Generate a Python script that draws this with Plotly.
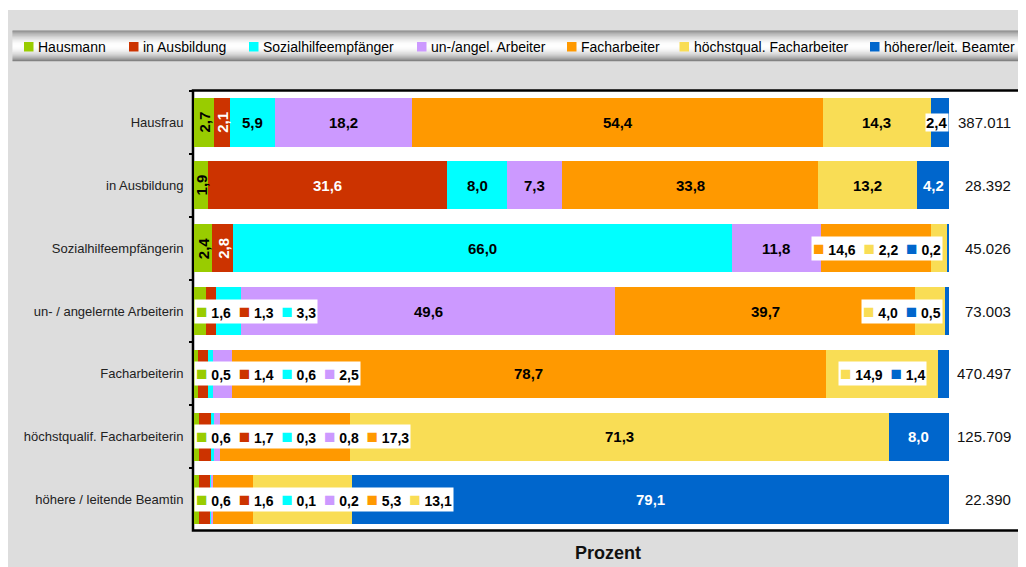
import math
import plotly.graph_objects as go

categories = [
    "Hausfrau",
    "in Ausbildung",
    "Sozialhilfeempfängerin",
    "un- / angelernte Arbeiterin",
    "Facharbeiterin",
    "höchstqualif. Facharbeiterin",
    "höhere / leitende Beamtin",
]
series_names = [
    "Hausmann",
    "in Ausbildung",
    "Sozialhilfeempfänger",
    "un-/angel. Arbeiter",
    "Facharbeiter",
    "höchstqual. Facharbeiter",
    "höherer/leit. Beamter",
]
hausmann = [2.7, 1.9, 2.4, 1.6, 0.5, 0.6, 0.6]
in_ausbildung = [2.1, 31.6, 2.8, 1.3, 1.4, 1.7, 1.6]
sozialhilfe = [5.9, 8.0, 66.0, 3.3, 0.6, 0.3, 0.1]
ungelernt = [18.2, 7.3, 11.8, 49.6, 2.5, 0.8, 0.2]
facharbeiter = [54.4, 33.8, 14.6, 39.7, 78.7, 17.3, 5.3]
hoechstqual = [14.3, 13.2, 2.2, 4.0, 14.9, 71.3, 13.1]
beamter = [2.4, 4.2, 0.2, 0.5, 1.4, 8.0, 79.1]
totals = [387011, 28392, 45026, 73003, 470497, 125709, 22390]

series_values = [hausmann, in_ausbildung, sozialhilfe, ungelernt,
                 facharbeiter, hoechstqual, beamter]
COLORS = ["#99CC00", "#CC3300", "#00FFFF", "#CC99FF", "#FF9900", "#F9DD55", "#0066CC"]
TEXT_COLORS = ["black", "white", "black", "black", "black", "black", "white"]

# how the labels are placed (row, series)
ROTATED = {(0, 0), (0, 1), (1, 0), (2, 0), (2, 1)}
WHITE_SINGLE = {(0, 6)}
GROUPS = {
    2: [("right", [4, 5, 6])],
    3: [("left", [0, 1, 2]), ("right", [5, 6])],
    4: [("left", [0, 1, 2, 3]), ("right", [5, 6])],
    5: [("left", [0, 1, 2, 3, 4])],
    6: [("left", [0, 1, 2, 3, 4, 5])],
}

FONT = "Liberation Sans, Arial, sans-serif"
OFF = 8  # page body margin
W, H = 1018, 559
# plot area in page pixels
L, R, T, B = 194, 949, 91, 531


def px_x(p):
    return (p - L) / (R - L)


def px_y(p):
    return (B - p) / (B - T)


def fmt(v):
    return f"{v:.1f}".replace(".", ",")


fig = go.Figure()
for name, vals, col in zip(series_names, series_values, COLORS):
    fig.add_trace(go.Bar(
        y=categories, x=vals, name=name, orientation="h",
        marker=dict(color=col, line=dict(width=0)), width=0.77,
        hovertemplate="%{y}: %{x}<extra>" + name + "</extra>",
    ))

annotations = []
shapes = []
bold14 = dict(family=FONT, size=14, color="black", weight="bold")

# segment labels
for r, cat in enumerate(categories):
    row = [vals[r] for vals in series_values]
    grouped = set()
    for side, idx in GROUPS.get(r, []):
        grouped.update(idx)
    start = 0
    for s, v in enumerate(row):
        mid = start + v / 2
        start += v
        if s in grouped:
            continue
        if (r, s) in WHITE_SINGLE:
            annotations.append(dict(
                x=mid - 0.4, y=cat, xref="x", yref="y", yanchor="middle", text=fmt(v),
                showarrow=False, font=dict(family=FONT, size=15, color="black", weight="bold"),
                bgcolor="white", borderpad=0))
            continue
        annotations.append(dict(
            x=mid, y=cat, xref="x", yref="y", yanchor="middle", text=fmt(v), showarrow=False,
            textangle=-90 if (r, s) in ROTATED else 0,
            font=dict(family=FONT, size=15, color=TEXT_COLORS[s], weight="bold")))

    # boxed groups with little colour keys
    for side, idx in GROUPS.get(r, []):
        parts = []
        est_w = 6
        for s in idx:
            parts.append(f"<span style='color:{COLORS[s]};font-size:19px'>■</span> {fmt(row[s])}")
            est_w += 16 + 7.8 * (len(fmt(row[s])) - 1) + 3.9 + 8
        text = "  ".join(parts)
        box = dict(y=cat, yref="y", yanchor="middle", text=text, showarrow=False,
                   font=bold14, bgcolor="white", borderpad=1)
        if side == "left":
            box.update(x=0, xref="x", xanchor="left")
        else:
            first = idx[0]
            mid = sum(row[:first]) + row[first] / 2
            center_px = L + mid / 100 * (R - L)
            if center_px + est_w / 2 > 943:
                box.update(x=px_x(943), xref="paper", xanchor="right")
            else:
                box.update(x=mid, xref="x", xanchor="center")
        annotations.append(box)

# totals at the right
for cat, tot in zip(categories, totals):
    annotations.append(dict(
        x=px_x(1013), y=cat, xref="paper", yref="y", xanchor="right", yanchor="middle",
        text=f"{tot:,}".replace(",", "."), showarrow=False,
        font=dict(family=FONT, size=15, color="#111111")))

# axis title
annotations.append(dict(
    x=px_x(608), y=px_y(553), xref="paper", yref="paper", xanchor="center", yanchor="middle",
    text="<b>Prozent</b>", showarrow=False, font=dict(family=FONT, size=18, color="#111111")))

# background pieces
shapes.append(dict(type="rect", xref="paper", yref="paper", x0=px_x(0), x1=px_x(1100),
                   y0=px_y(10), y1=px_y(0), fillcolor="white", line=dict(width=0), layer="below"))
shapes.append(dict(type="rect", xref="paper", yref="paper", x0=px_x(193), x1=px_x(1023.5),
                   y0=px_y(530.5), y1=px_y(90.5), fillcolor="white",
                   line=dict(color="black", width=2.5), layer="below"))

# metallic legend band
band_top, band_bot = 30.5, 61
n_strips = 30
step = (band_bot - band_top) / n_strips
for i in range(n_strips):
    t = (i + 0.5) / n_strips
    g = int(118 + 137 * math.sin(math.pi * t) ** 0.8)
    shapes.append(dict(type="rect", xref="paper", yref="paper", x0=px_x(12.5), x1=px_x(1100),
                       y0=px_y(band_top + (i + 1) * step + 0.3), y1=px_y(band_top + i * step),
                       fillcolor=f"rgb({g},{g},{g})", line=dict(width=0), layer="below"))

legend_x = [24, 129, 249, 417, 567, 679.5, 870]
for name, col, lx in zip(series_names, COLORS, legend_x):
    shapes.append(dict(type="rect", xref="paper", yref="paper", x0=px_x(lx), x1=px_x(lx + 9.5),
                       y0=px_y(51.5), y1=px_y(42), fillcolor=col, line=dict(width=0)))
    annotations.append(dict(
        x=px_x(lx + 12), y=px_y(46.5), xref="paper", yref="paper", xanchor="left",
        yanchor="middle", text=name, showarrow=False,
        font=dict(family=FONT, size=14, color="black")))

fig.update_layout(
    width=W, height=H,
    barmode="stack",
    showlegend=False,
    paper_bgcolor="#DDDDDD",
    plot_bgcolor="white",
    margin=dict(l=L - OFF, r=W - (R - OFF), t=T - OFF, b=H - (B - OFF)),
    xaxis=dict(range=[0, 100], visible=False, fixedrange=True),
    yaxis=dict(
        autorange="reversed", tickson="boundaries", ticks="outside", ticklen=3,
        tickwidth=2, tickcolor="black", showline=True, linecolor="black", linewidth=2,
        showgrid=False, tickfont=dict(family=FONT, size=13, color="#222222"),
        ticklabelstandoff=6,
    ),
    annotations=annotations,
    shapes=shapes,
)

fig.write_html("out.html")
